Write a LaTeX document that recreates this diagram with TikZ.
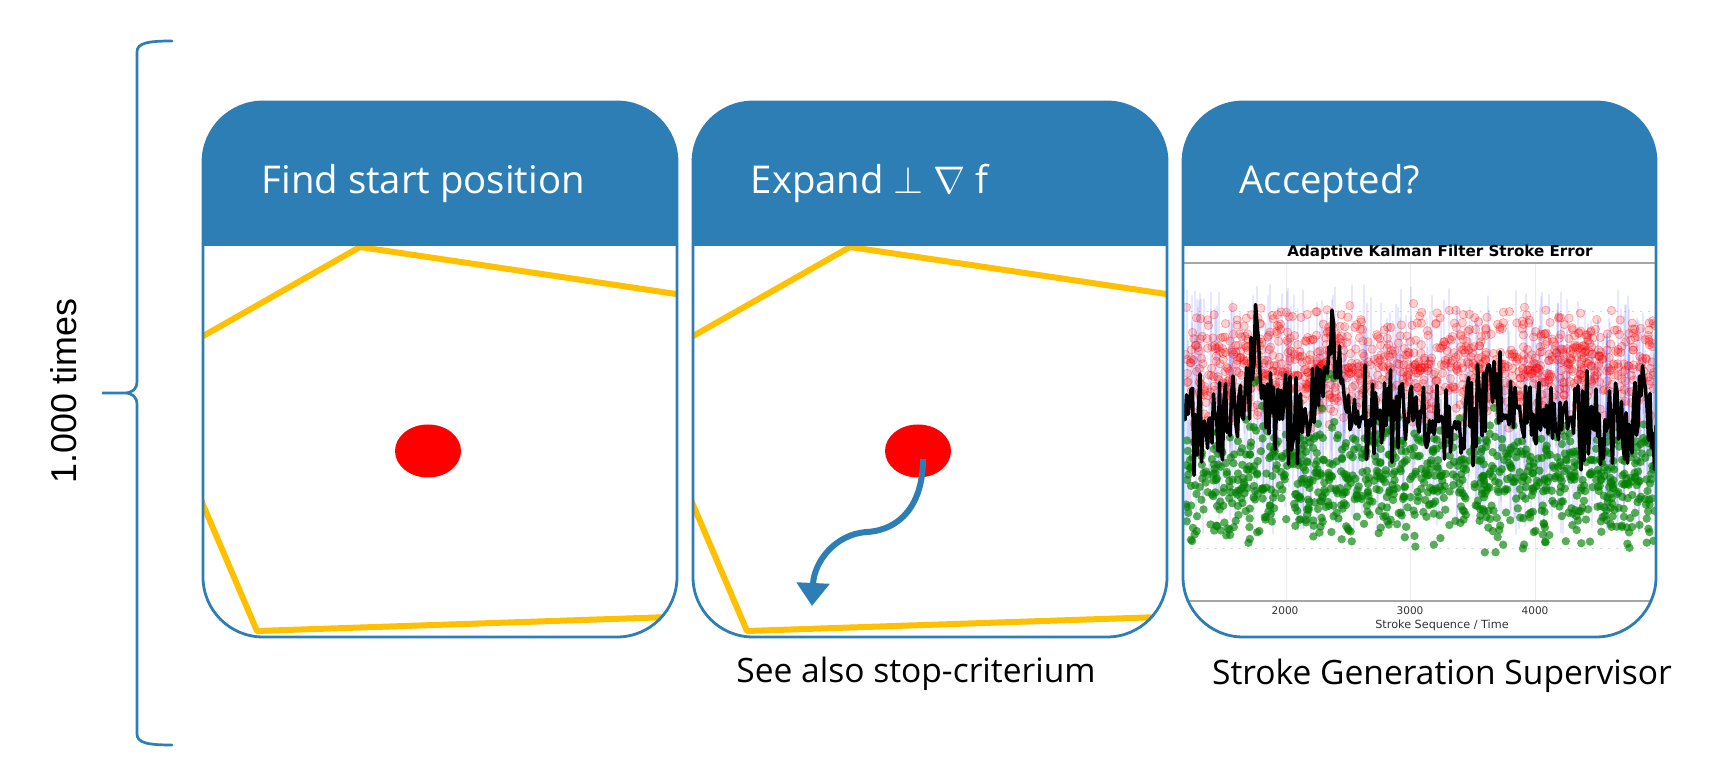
\documentclass[tikz,border=0pt]{standalone}
\usepackage{fontspec}
\setmainfont{Open Sans}
\newfontfamily\narrowfont{Liberation Sans}
\newfontfamily\plotfont{DejaVu Sans}
\usepackage{tikz}
\usetikzlibrary{arrows.meta,shapes.geometric}
\usepackage{xcolor}
\definecolor{hdrblue}{RGB}{46,126,182}
\definecolor{hullyellow}{RGB}{255,192,0}
\definecolor{plotgreen}{RGB}{0,128,0}

\begin{document}
\begin{tikzpicture}[x=0.1mm,y=-0.1mm,line cap=round,
  declare function={base(\t)=422-85/(1+((\t-1257)/7)*((\t-1257)/7))-85/(1+((\t-1330)/7)*((\t-1330)/7))-55/(1+((\t-1493)/5)*((\t-1493)/5))-25/(1+((\t-1400)/10)*((\t-1400)/10));},
  panelframe/.style={draw=hdrblue,line width=0.28mm,rounded corners=6mm},
  hull/.style={draw=hullyellow,line width=0.6mm,line join=round},
  reddot/.style={ellipse,fill=red,minimum width=6.6mm,minimum height=5.3mm,inner sep=0pt},
  hdrtitle/.style={anchor=base west,inner sep=0pt,text=white,font=\fontsize{10.9}{13}\selectfont},
  caption/.style={anchor=base,inner sep=0pt,font=\fontsize{9.55}{11}\selectfont},
  grad/.style={draw=hdrblue,line width=0.6mm,line cap=butt,-{Triangle[length=2.3mm,width=3.2mm]}},
  redpt/.style={draw=red,fill=red,draw opacity=0.3,fill opacity=0.18,line width=0.07mm},
  greenpt/.style={fill=plotgreen,fill opacity=0.65},
  errbar/.style={draw=blue!70,draw opacity=0.13,line width=0.2mm},
  kline/.style={draw=black,line width=0.35mm,line join=round},
  plottext/.style={inner sep=0pt,text=black!80,font=\plotfont\fontsize{3}{3.6}\selectfont}]
\fill[white] (0,0) rectangle (1710,777);
\useasboundingbox (0,0) rectangle (1710,777);

\draw[hdrblue,line width=0.27mm] (172,41) .. controls (148,41) and (137,43) .. (137,52) -- (137,381)
  .. controls (137,389) and (133,393) .. (124,393) -- (102,393) -- (124,393)
  .. controls (133,393) and (137,397) .. (137,405) -- (137,734) .. controls (137,743) and (148,745) .. (172,745);
\node[rotate=90,anchor=base,inner sep=0pt,font=\narrowfont\fontsize{10.2}{12}\selectfont] (reps) at (77,391) {1.000 times};

\begin{scope}
\clip[rounded corners=6mm] (203,102) rectangle (677,637);
\draw[hull] (730,302) -- (360,247) -- (145,369) -- (257,631) -- (730,615);
\fill[hdrblue] (203,102) rectangle (677,246);
\end{scope}
\draw[panelframe] (203,102) rectangle (677,637);
\node[hdrtitle] (title1) at (261,194) {Find start position};
\node[reddot] (dot1) at (428,451) {};

\begin{scope}
\clip[rounded corners=6mm] (693,102) rectangle (1167,637);
\draw[hull] (1220,302) -- (850,247) -- (635,369) -- (747,631) -- (1220,615);
\fill[hdrblue] (693,102) rectangle (1167,246);
\end{scope}
\draw[panelframe] (693,102) rectangle (1167,637);
\node[hdrtitle] (title2) at (750,194) {Expand $\perp$ $\nabla$ $\mathrm{f}$};
\node[reddot] (dot2) at (918,451) {};
\coordinate (from2) at (923,459);
\coordinate (tip2) at (812,606);
\draw[grad] (from2) .. controls (923,505) and (900,530) .. (867,532) .. controls (835,534) and (814,562) .. (tip2);
\node[caption] (cap2) at (916,683) {See also stop-criterium};

\begin{scope}
\clip[rounded corners=6mm] (1183,102) rectangle (1656,637);
\pgfmathsetseed{4711}
\draw[gray!15,line width=0.1mm] (1286,264) -- (1286,600) (1410,264) -- (1410,600) (1535,264) -- (1535,600);
\draw[gray!35,dotted,line width=0.1mm] (1183,312) -- (1656,312) (1183,431) -- (1656,431) (1183,549) -- (1656,549);
\foreach \i in {1,...,450}{
  \pgfmathsetmacro\bx{1185+470*rnd}
  \pgfmathsetmacro\by{285+150*rnd}
  \draw[errbar] (\bx,\by) -- (\bx,\by+100);
}
\foreach \i in {1,...,1100}
  \draw[redpt] ({1185+470*rnd},{366+32*(rand+rand)}) circle[radius=4.2];
\foreach \i in {1,...,850}
  \fill[greenpt] ({1185+470*rnd},{484+35*(rand+rand)}) circle[radius=4.2];
\foreach \x in {1186,1190,...,1654}
  \fill[greenpt] (\x,{base(\x)+18+35*rnd}) circle[radius=4.2];
\draw[kline] (1185,420) \foreach \x in {1186.5,1188,...,1656}{ -- (\x,{base(\x)+34*rand+24*rand}) };
\draw[gray!70,line width=0.15mm] (1183,263) -- (1656,263);
\draw[gray!70,line width=0.15mm] (1183,601) -- (1656,601);
\fill[hdrblue] (1183,102) rectangle (1656,246);
\end{scope}
\draw[panelframe] (1183,102) rectangle (1656,637);
\node[hdrtitle] (title3) at (1239,194) {Accepted?};
\node[plottext,anchor=base,text=black,font=\plotfont\bfseries\fontsize{4.3}{5}\selectfont] (ptitle) at (1440,257) {Adaptive Kalman Filter Stroke Error};
\node[plottext] (tick2k) at (1285,611) {2000};
\node[plottext] (tick3k) at (1410,611) {3000};
\node[plottext] (tick4k) at (1535,611) {4000};
\node[plottext,font=\plotfont\fontsize{3.2}{3.8}\selectfont] (xlabel) at (1442,625) {Stroke Sequence / Time};
\node[caption] (cap3) at (1442,685) {Stroke Generation Supervisor};
\end{tikzpicture}
\end{document}
